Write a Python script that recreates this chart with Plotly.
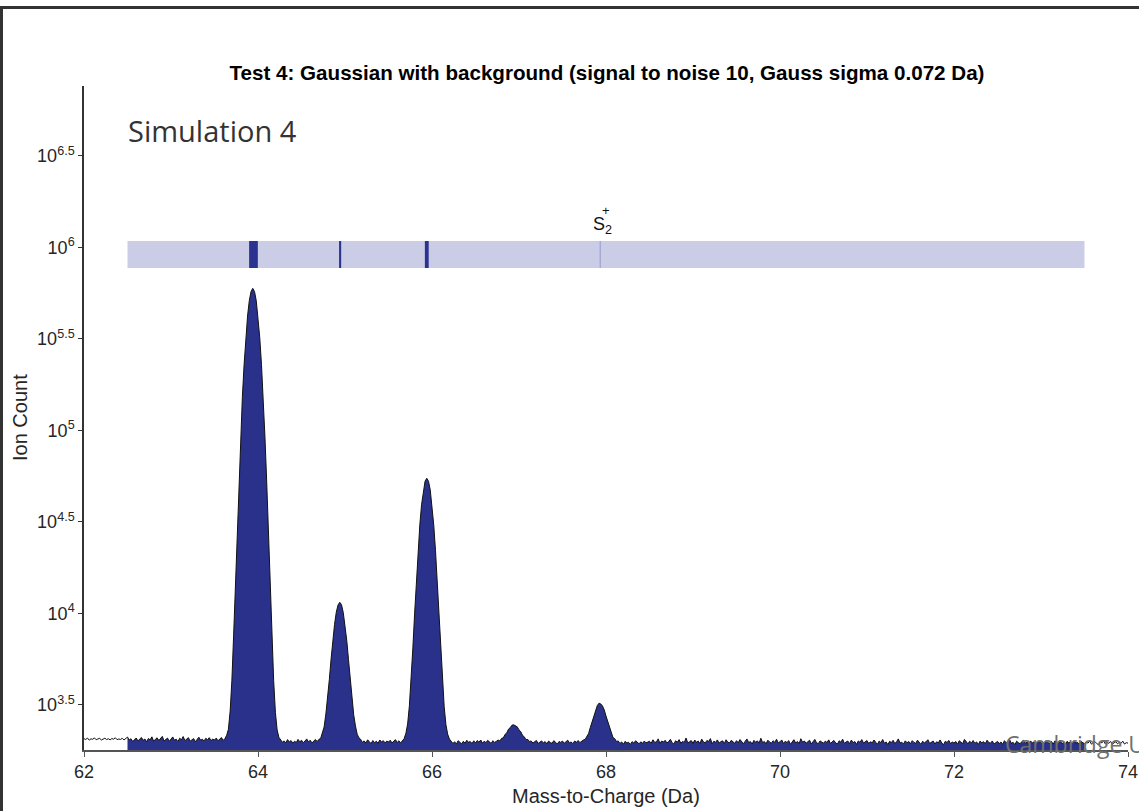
import numpy as np
import plotly.graph_objects as go

# ---------------------------------------------------------------------------
# Spectrum: ion counts per 0.02 Da bin, 62.00 .. 74.00 Da (one row = 0.5 Da)
# ---------------------------------------------------------------------------
BIN_START = 62.0
BIN_WIDTH = 0.02

counts = [
    # 62.00
    2071, 2048, 2085, 2032, 2066, 2054, 2090, 2041, 2063, 2078, 2035, 2059, 2082,
    2047, 2069, 2038, 2074, 2056, 2093, 2044, 2061, 2050, 2079, 2036, 2067,
    # 62.50
    2112, 2034, 2068, 1996, 2051, 2087, 2013, 2045, 2102, 2026, 2061, 1988, 2074,
    2039, 2118, 2007, 2056, 2093, 2021, 2064, 2130, 2010, 2047, 2085, 2002,
    # 63.00
    2069, 2115, 2028, 2057, 1994, 2081, 2042, 2126, 2018, 2060, 2097, 2005, 2049,
    2073, 1990, 2063, 2108, 2031, 2055, 2012, 2079, 2044, 2096, 2021, 2058,
    # 63.50
    2037, 2084, 2016, 2062, 2099, 2025, 2071, 2160, 2330, 2930, 4320, 7610, 14580,
    28210, 52300, 91700, 150900, 228300, 323400, 421800, 512600, 573900, 597400,
    574100, 511000,
    # 64.00
    422700, 322300, 229100, 150100, 91800, 52400, 28100, 14600, 7640, 4290, 2880,
    2310, 2105, 2034, 1978, 2012, 1965, 2046, 1983, 2020, 1958, 2004, 1972, 2051,
    1990,
    # 64.50
    2027, 1969, 2008, 2063, 1985, 2031, 1962, 2018, 2049, 1994, 2052, 2075, 2213,
    2398, 2821, 3449, 4356, 5647, 7108, 8724, 10170, 11120, 11510, 11160, 10120,
    # 65.00
    8690, 7140, 5610, 4390, 3420, 2795, 2430, 2188, 2094, 2052, 1975, 2013, 1958,
    2040, 1991, 1947, 2022, 1968, 2005, 1952, 2036, 1984, 2019, 1961, 2009,
    # 65.50
    1987, 2031, 1959, 2008, 2044, 1973, 2016, 1962, 2030, 2071, 2215, 2490, 3128,
    4310, 6480, 9950, 15190, 22110, 30500, 39280, 47260, 52790, 54810, 52760, 47230,
    # 66.00
    39320, 30450, 22140, 15160, 9980, 6450, 4330, 3090, 2470, 2190, 2062, 2010,
    1948, 1992, 1931, 2017, 1969, 1940, 2003, 1955, 2028, 1976, 1998, 1945, 2014,
    # 66.50
    1962, 2021, 1978, 2035, 1957, 2004, 1969, 2026, 1983, 1950, 2018, 1974, 2003,
    2035, 2010, 2078, 2091, 2185, 2228, 2335, 2380, 2455, 2462, 2430, 2401,
    # 67.00
    2311, 2262, 2158, 2120, 2043, 2052, 1998, 2011, 1958, 1991, 2024, 1949, 1986,
    2013, 1962, 1995, 1940, 2007, 1971, 1952, 2019, 1968, 1934, 1997, 1975,
    # 67.50
    2008, 1955, 1990, 2031, 1963, 1987, 1942, 2010, 1976, 2022, 1968, 2004, 2036,
    2049, 2140, 2210, 2386, 2541, 2770, 2945, 3140, 3236, 3205, 3118, 2969,
    # 68.00
    2752, 2560, 2352, 2238, 2101, 2071, 1998, 2012, 1949, 1986, 1930, 2002, 1961,
    1978, 1925, 1994, 1957, 2015, 1970, 1941, 1989, 1952, 2008, 1964, 1982,
    # 68.50
    2003, 1958, 2041, 1972, 1990, 2064, 1947, 2011, 1983, 2029, 1961, 1995, 2052,
    1968, 1936, 2017, 1980, 2045, 1954, 2000, 1973, 2088, 1962, 1991, 2020,
    # 69.00
    1951, 2034, 1977, 2008, 1945, 2059, 1986, 1962, 2023, 1998, 2071, 1940, 2006,
    1975, 2038, 1958, 1993, 2015, 1948, 2042, 1981, 1964, 2027, 1990, 1952,
    # 69.50
    2019, 1966, 2048, 1983, 1941, 2004, 2062, 1970, 1995, 1933, 2026, 1978, 2013,
    1957, 2081, 1969, 1997, 1939, 2030, 1984, 1952, 2016, 1975, 2055, 1962,
    # 70.00
    1990, 2037, 1948, 2003, 1971, 2020, 1929, 1986, 2043, 1960, 1999, 1945, 2068,
    1976, 2010, 1954, 1982, 2029, 1937, 1994, 2051, 1967, 1943, 2012, 1978,
    # 70.50
    1955, 2006, 1972, 2039, 1948, 1991, 2024, 1961, 1934, 2015, 1979, 2057, 1950,
    1987, 2008, 1942, 2033, 1969, 1996, 1927, 2011, 1974, 2046, 1958, 1985,
    # 71.00
    2021, 1946, 1992, 1963, 2035, 1977, 1930, 2009, 1968, 2049, 1954, 1986, 1922,
    2002, 1971, 2027, 1945, 1993, 2064, 1959, 1980, 1937, 2014, 1966, 1998,
    # 71.50
    1943, 2019, 1975, 1951, 2031, 1988, 1926, 2006, 1961, 1995, 2042, 1949, 1978,
    2010, 1935, 1990, 1964, 2037, 1957, 1921, 2003, 1972, 2025, 1946, 1983,
    # 72.00
    1960, 1998, 1931, 2016, 1969, 1945, 2051, 1980, 1939, 2004, 1962, 2022, 1950,
    1987, 1924, 2008, 1966, 1993, 1942, 2030, 1971, 1955, 2011, 1934, 1979,
    # 72.50
    2000, 1947, 1985, 1928, 2019, 1963, 1990, 2038, 1952, 1976, 1918, 2005, 1969,
    1941, 1997, 2027, 1956, 1982, 1933, 2012, 1961, 1990, 1926, 1974, 2008,
    # 73.00
    1950, 1986, 1937, 2021, 1967, 1945, 1999, 1929, 2013, 1972, 1954, 2034, 1940,
    1981, 1915, 2002, 1963, 1991, 1938, 2017, 1958, 1976, 1920, 1995, 1962,
    # 73.50
    1944, 1983, 1957, 2008, 1931, 1972, 1996, 1947, 1919, 1988, 1961, 2015, 1935,
    1970, 1952, 1999, 1926, 1964, 1991, 1940, 1977, 1950, 2006, 1933, 1968,
    # 74.00
    1955,
]

# Mass window that is shaded as the analysed range
RANGE_START = 62.5
RANGE_END = 73.5

# Ion positions marked on the ion band (S2+ isotopologues)
ion_mz = [63.948, 64.944, 65.940, 67.933]
ion_width = [0.100, 0.024, 0.044, 0.010]
ion_color = ["#2B3290", "#2B3290", "#2B3290", "#8E91CC"]
ion_label = "S<sub>2</sub>"
ion_charge = "+"
ion_label_mz = 67.933

# Axis ticks
x_ticks = [62, 64, 66, 68, 70, 72, 74]
y_tick_exponents = ["3.5", "4", "4.5", "5", "5.5", "6", "6.5"]

TITLE = "Test 4: Gaussian with background (signal to noise 10, Gauss sigma 0.072 Da)"
PANEL_LABEL = "Simulation 4"
WATERMARK = "Cambridge University Press"

# ---------------------------------------------------------------------------
mz = BIN_START + BIN_WIDTH * np.arange(len(counts))
counts_arr = np.array(counts, dtype=float)
in_range = (mz >= RANGE_START - 1e-9) & (mz <= RANGE_END + 1e-9)

FILL = "#29318A"
TEXT = "#262626"
BASE_FONT = "Liberation Sans, Arial, sans-serif"

fig = go.Figure()

# floor for the filled area (sits below the visible range of the log axis)
fig.add_trace(go.Scatter(
    x=mz[in_range], y=np.full(in_range.sum(), 10.0),
    mode="lines", line=dict(width=0, color=FILL), hoverinfo="skip",
))
fig.add_trace(go.Scatter(
    x=mz[in_range], y=counts_arr[in_range],
    mode="lines", line=dict(width=0, color=FILL),
    fill="tonexty", fillcolor=FILL, hoverinfo="skip",
))
# spectrum outline over the full mass range
fig.add_trace(go.Scatter(
    x=mz, y=counts_arr, mode="lines",
    line=dict(width=1, color="#111111"), hoverinfo="skip",
))

# plot area geometry in pixels, used for paper-referenced decorations
L, R, T, B = 84, 11, 86, 61
W, H = 1139, 811
PW, PH = W - L - R, H - T - B


def px_x(p):
    return (p - L) / PW


def px_y(q):
    return (H - B - q) / PH


band_top, band_bot = px_y(241), px_y(268)

shapes = [
    # ion band
    dict(type="rect", xref="x", yref="paper", x0=RANGE_START, x1=RANGE_END,
         y0=band_bot, y1=band_top, fillcolor="#CBCDE6", line=dict(width=0)),
]
for c, w, col in zip(ion_mz, ion_width, ion_color):
    shapes.append(dict(type="rect", xref="x", yref="paper", x0=c - w / 2, x1=c + w / 2,
                       y0=band_bot, y1=band_top, fillcolor=col, line=dict(width=0)))
# outer frame of the figure panel
shapes.append(dict(type="rect", xref="paper", yref="paper",
                   x0=px_x(1.5), x1=px_x(1160), y0=px_y(830), y1=px_y(7.5),
                   line=dict(color="#333333", width=3), fillcolor="rgba(0,0,0,0)"))

annotations = [
    dict(text=PANEL_LABEL, xref="paper", yref="paper", x=px_x(126), y=px_y(131),
         xanchor="left", yanchor="middle", showarrow=False,
         font=dict(family="Open Sans, sans-serif", size=29, color="#333333")),
    dict(text=ion_label, xref="x", yref="paper", x=ion_label_mz - 0.11, y=px_y(239),
         xanchor="left", yanchor="bottom", showarrow=False,
         font=dict(family=BASE_FONT, size=18, color="#111111")),
    dict(text=ion_charge, xref="x", yref="paper", x=ion_label_mz + 0.065, y=px_y(210),
         xanchor="center", yanchor="middle", showarrow=False,
         font=dict(family=BASE_FONT, size=13, color="#111111")),
    dict(text="Ion Count", xref="paper", yref="paper", x=px_x(20), y=px_y(418),
         xanchor="center", yanchor="middle", textangle=-90, showarrow=False,
         font=dict(family=BASE_FONT, size=20, color=TEXT)),
    dict(text="Mass-to-Charge (Da)", xref="paper", yref="paper", x=px_x(606), y=px_y(796),
         xanchor="center", yanchor="middle", showarrow=False,
         font=dict(family=BASE_FONT, size=20, color=TEXT)),
    dict(text=WATERMARK, xref="paper", yref="paper",
         x=px_x(1003), y=px_y(744), xanchor="left", yanchor="middle", showarrow=False,
         font=dict(family="Open Sans, sans-serif", size=23, color="#707070")),
]

fig.update_layout(
    width=W, height=H,
    margin=dict(l=L, r=R, t=T, b=B, autoexpand=False),
    paper_bgcolor="white", plot_bgcolor="white",
    showlegend=False,
    title=dict(text="<b>" + TITLE + "</b>", x=px_x(607), xref="paper",
               y=1 - 73 / H, yref="container", xanchor="center", yanchor="middle",
               font=dict(family=BASE_FONT, size=20.6, color="#000000")),
    font=dict(family=BASE_FONT, color=TEXT),
    shapes=shapes,
    annotations=annotations,
)

fig.update_xaxes(
    range=[62, 74], tickvals=x_ticks, ticktext=[str(t) for t in x_ticks],
    showline=True, linecolor="#555555", linewidth=1.5, automargin=False,
    ticks="outside", ticklen=5, tickwidth=1, tickcolor="#555555",
    tickfont=dict(size=18, color=TEXT), showgrid=False, zeroline=False,
)
fig.update_yaxes(
    type="log", range=[3.254, 6.882], automargin=False,
    tickvals=[10 ** float(e) for e in y_tick_exponents],
    ticktext=["10<sup>" + e + "</sup>" for e in y_tick_exponents],
    showline=True, linecolor="#333333", linewidth=1.5,
    ticks="outside", ticklen=4, tickwidth=1, tickcolor="#333333",
    tickfont=dict(size=18, color=TEXT), showgrid=False, zeroline=False,
)

fig.write_html("out.html")
